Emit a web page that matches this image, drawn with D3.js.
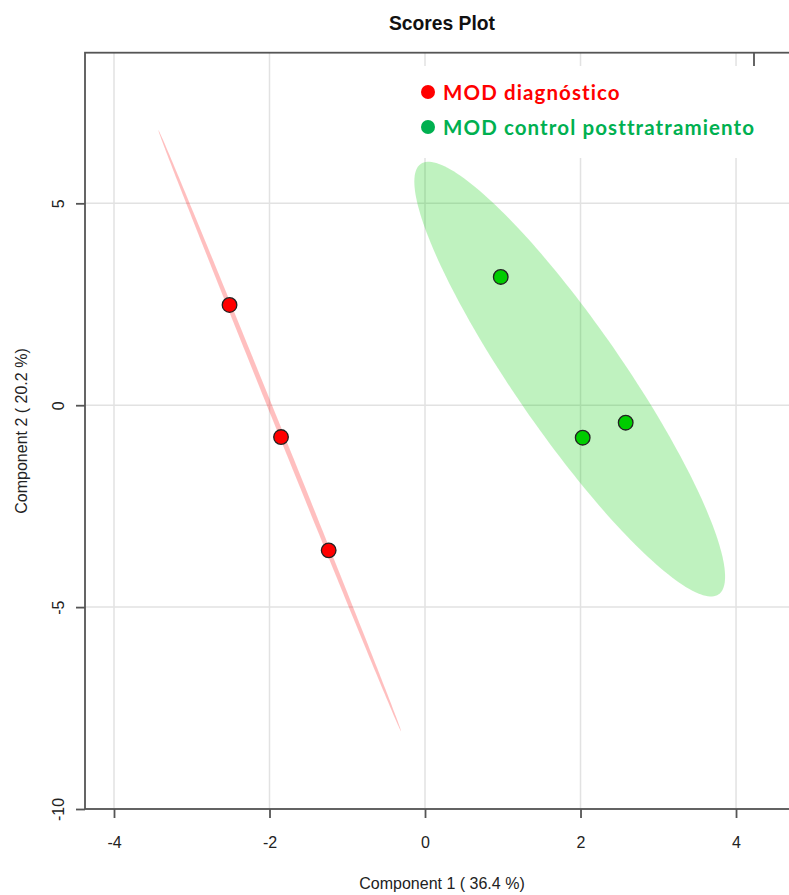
<!DOCTYPE html>
<html>
<head>
<meta charset="utf-8">
<script src="https://cdn.jsdelivr.net/npm/d3@7"></script>
<style>
  html, body { margin: 0; padding: 0; background: #fff; }
  svg { display: block; }
</style>
</head>
<body>
<svg id="chart" width="789" height="895"></svg>
<script>
// PLS-DA scores: component 1 vs component 2, one array per group
const groupNames = ["MOD diagnóstico", "MOD control posttratramiento"];
const diagComp1 = [-2.514, -1.852, -1.239];
const diagComp2 = [2.482, -0.788, -3.594];
const ctrlComp1 = [0.974, 2.028, 2.581];
const ctrlComp2 = [3.176, -0.805, -0.433];

const xTicks = [-4, -2, 0, 2, 4];
const yTicks = [5, 0, -5, -10];
const title = "Scores Plot";
const xLabel = "Component 1 ( 36.4 %)";
const yLabel = "Component 2 ( 20.2 %)";

const groups = [
  { name: groupNames[0], xs: diagComp1, ys: diagComp2, point: "#ff0000", fill: "rgba(255,0,0,0.25)", legend: "#ff0000" },
  { name: groupNames[1], xs: ctrlComp1, ys: ctrlComp2, point: "#00cd00", fill: "rgba(0,205,0,0.25)", legend: "#00b050" }
];

const svg = d3.select("#chart");
const box = { left: 85, right: 799, top: 52.7, bottom: 809 };

const x = d3.scaleLinear().domain([-4.373, 4.81]).range([box.left, box.right]);
const y = d3.scaleLinear().domain([-10, 8.73]).range([box.bottom, box.top]);

const axisFont = "'Liberation Sans', Arial, sans-serif";

// grid
const grid = svg.append("g").attr("stroke", "#e2e2e2").attr("stroke-width", 1.5);
grid.selectAll("line.v").data(xTicks).join("line")
  .attr("x1", d => x(d)).attr("x2", d => x(d))
  .attr("y1", box.top).attr("y2", box.bottom);
grid.selectAll("line.h").data(yTicks).join("line")
  .attr("x1", box.left).attr("x2", box.right)
  .attr("y1", d => y(d)).attr("y2", d => y(d));

// 95% confidence ellipse from the sample covariance of each group
const chi = Math.sqrt(-2 * Math.log(0.05));
function ellipsePoints(xs, ys) {
  const n = xs.length;
  const mx = d3.mean(xs), my = d3.mean(ys);
  let sxx = 0, syy = 0, sxy = 0;
  for (let i = 0; i < n; i++) {
    const dx = xs[i] - mx, dy = ys[i] - my;
    sxx += dx * dx; syy += dy * dy; sxy += dx * dy;
  }
  sxx /= n - 1; syy /= n - 1; sxy /= n - 1;
  const tr = sxx + syy, det = sxx * syy - sxy * sxy;
  const disc = Math.sqrt(Math.max(tr * tr / 4 - det, 0));
  const l1 = tr / 2 + disc, l2 = Math.max(tr / 2 - disc, 0);
  let v1 = Math.abs(sxy) > 1e-12 ? [l1 - syy, sxy] : (sxx >= syy ? [1, 0] : [0, 1]);
  const len = Math.hypot(v1[0], v1[1]);
  v1 = [v1[0] / len, v1[1] / len];
  const v2 = [-v1[1], v1[0]];
  const a = chi * Math.sqrt(l1), b = chi * Math.sqrt(l2);
  return d3.range(0, 200).map(k => {
    const t = 2 * Math.PI * k / 200;
    const c = Math.cos(t) * a, s = Math.sin(t) * b;
    return [mx + c * v1[0] + s * v2[0], my + c * v1[1] + s * v2[1]];
  });
}

const line = d3.line().x(d => x(d[0])).y(d => y(d[1])).curve(d3.curveLinearClosed);
svg.append("g").selectAll("path").data(groups).join("path")
  .attr("d", g => line(ellipsePoints(g.xs, g.ys)))
  .attr("fill", g => g.fill)
  .attr("stroke", "none");

// score points
groups.forEach(g => {
  svg.append("g").selectAll("circle").data(g.xs.map((v, i) => [v, g.ys[i]])).join("circle")
    .attr("cx", d => x(d[0])).attr("cy", d => y(d[1]))
    .attr("r", 7.3)
    .attr("fill", g.point)
    .attr("stroke", "#222")
    .attr("stroke-width", 1.3);
});

// frame
svg.append("rect")
  .attr("x", box.left).attr("y", box.top)
  .attr("width", box.right - box.left).attr("height", box.bottom - box.top)
  .attr("fill", "none").attr("stroke", "#555").attr("stroke-width", 1.8);

// axes
const xAxis = svg.append("g")
  .attr("transform", `translate(0,${box.bottom})`)
  .call(d3.axisBottom(x).tickValues(xTicks).tickSize(9).tickFormat(d => String(d)));
xAxis.select(".domain").remove();
xAxis.selectAll(".tick line").attr("stroke", "#555").attr("stroke-width", 1.8);
xAxis.selectAll(".tick text")
  .attr("y", 39).attr("dy", null)
  .attr("fill", "#222").attr("font-size", 16).attr("font-family", axisFont);

const yAxis = svg.append("g")
  .attr("transform", `translate(${box.left},0)`)
  .call(d3.axisLeft(y).tickValues(yTicks).tickSize(9).tickFormat(d => String(d)));
yAxis.select(".domain").remove();
yAxis.selectAll(".tick line").attr("stroke", "#555").attr("stroke-width", 1.8);
yAxis.selectAll(".tick text")
  .attr("x", null).attr("dy", null)
  .attr("transform", "translate(-21,0) rotate(-90)")
  .attr("text-anchor", "middle")
  .attr("fill", "#222").attr("font-size", 16).attr("font-family", axisFont);

// titles
svg.append("text").attr("x", 442).attr("y", 30)
  .attr("text-anchor", "middle").attr("font-family", axisFont)
  .attr("font-weight", "bold").attr("font-size", 19.3).attr("fill", "#111")
  .text(title);
svg.append("text").attr("x", 442).attr("y", 889)
  .attr("text-anchor", "middle").attr("font-family", axisFont)
  .attr("font-size", 16).attr("fill", "#222")
  .text(xLabel);
svg.append("text").attr("transform", "translate(27,431) rotate(-90)")
  .attr("text-anchor", "middle").attr("font-family", axisFont)
  .attr("font-size", 16).attr("fill", "#222")
  .text(yLabel);

// legend panel
svg.append("line").attr("x1", 754).attr("x2", 754).attr("y1", box.top).attr("y2", 66)
  .attr("stroke", "#555").attr("stroke-width", 1.8);
svg.append("rect").attr("x", 405).attr("y", 66).attr("width", 400).attr("height", 92)
  .attr("fill", "#fff");
const legend = svg.append("g").selectAll("g").data(groups).join("g")
  .attr("transform", (d, i) => `translate(428,${92 + i * 35})`);
legend.append("circle").attr("r", 7).attr("fill", d => d.legend);
legend.append("text").attr("x", 15).attr("y", 7.5)
  .attr("font-family", "Lato, 'Open Sans', sans-serif")
  .attr("font-weight", "bold").attr("font-size", 20.5)
  .attr("letter-spacing", 1.1)
  .attr("fill", d => d.legend)
  .text(d => d.name);
</script>
</body>
</html>
